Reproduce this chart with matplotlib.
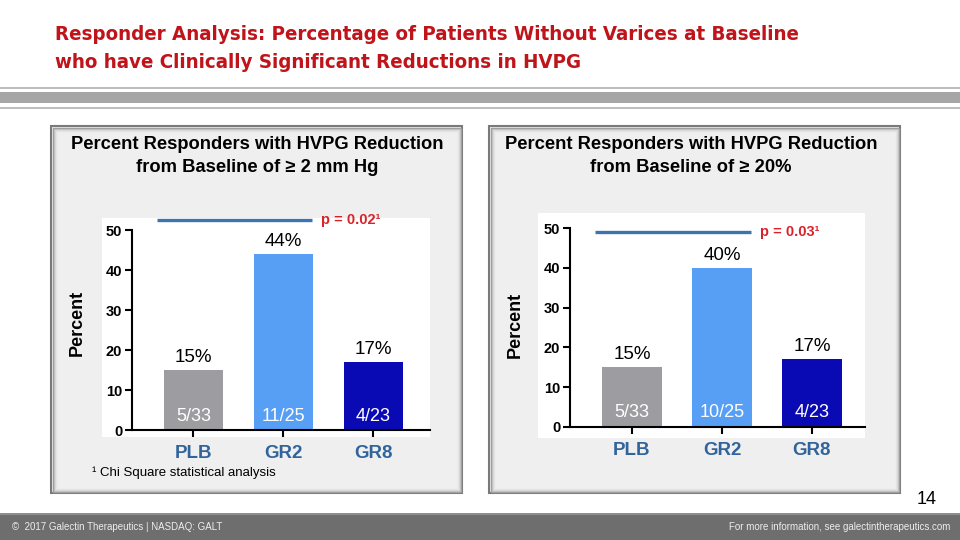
import matplotlib.pyplot as plt
from matplotlib.patches import Rectangle

plt.rcParams['font.family'] = ['Liberation Sans', 'DejaVu Sans']

# Data grafik
kelompok = ['PLB', 'GR2', 'GR8']
persen_2mm = [15, 44, 17]
persen_20 = [15, 40, 17]
pecahan_2mm = ['5/33', '11/25', '4/23']
pecahan_20 = ['5/33', '10/25', '4/23']
warna_bar = ['#9D9DA1', '#579FF5', '#0A0AB4']
teks_p_2mm = 'p = 0.02\u00b9'
teks_p_20 = 'p = 0.03\u00b9'
y_garis_2mm = 52.5
y_garis_20 = 49

judul1 = 'Responder Analysis: Percentage of Patients Without Varices at Baseline'
judul2 = 'who have Clinically Significant Reductions in HVPG'
judul_kiri = 'Percent Responders with HVPG Reduction\nfrom Baseline of \u2265 2 mm Hg'
judul_kanan = 'Percent Responders with HVPG Reduction\nfrom Baseline of \u2265 20%'

W, H = 960, 540
fig = plt.figure(figsize=(9.6, 5.4), dpi=100)


def fx(x):
    return x / W


def fy(y):
    return 1 - y / H


def kotak(x0, y0, x1, y1, **kw):
    fig.patches.append(Rectangle((fx(x0), fy(y1)), (x1 - x0) / W, (y1 - y0) / H,
                                 transform=fig.transFigure, zorder=-5, **kw))


# Judul slide (font sempit)
fig.text(fx(55), fy(35), judul1, color='#C0141B', fontsize=14.7, fontweight='bold',
         family='DejaVu Sans', fontstretch='condensed', va='center')
fig.text(fx(55), fy(63), judul2, color='#C0141B', fontsize=14.7, fontweight='bold',
         family='DejaVu Sans', fontstretch='condensed', va='center')

# Garis pemisah
kotak(0, 86.5, 960, 88.5, color='#BDBDBD', lw=0)
kotak(0, 92, 960, 103, color='#A6A6A6', lw=0)
kotak(0, 107, 960, 109, color='#BDBDBD', lw=0)

# Panel abu-abu
for x0, x1 in [(51, 462), (489, 900)]:
    kotak(x0, 126, x1, 493, facecolor='#EFEFEF', edgecolor='#7A7A7A', lw=1.5)
    for i, c in enumerate(['#9A9A9A', '#BDBDBD', '#D6D6D6', '#E4E4E4']):
        kotak(x0 + i + 1.5, 126 + i + 1.5, x1 - i - 1.5, 493 - i - 1.5,
              facecolor='none', edgecolor=c, lw=1)

# Area putih grafik
kotak(102, 218, 430, 437, color='white', lw=0)
kotak(538, 213, 865, 438, color='white', lw=0)

fig.text(fx(257), fy(156), judul_kiri, ha='center', va='center', fontsize=13.2,
         fontweight='bold', linespacing=1.4)
fig.text(fx(691), fy(156), judul_kanan, ha='center', va='center', fontsize=13.2,
         fontweight='bold', linespacing=1.4)


def gambar(ax, nilai, pecahan, teks_p, y_garis, xlim, y_pecahan):
    x = range(len(kelompok))
    ax.bar(x, nilai, width=0.66, color=warna_bar)
    for i, v in enumerate(nilai):
        ax.text(i, v + 1, f'{v}%', ha='center', va='bottom', fontsize=13.5)
        ax.text(i, y_pecahan, pecahan[i], ha='center', va='center', fontsize=13,
                color='white')
    ax.plot([-0.41, 1.32], [y_garis, y_garis], color='#3C74AE', lw=2.4,
            clip_on=False, solid_capstyle='butt')
    ax.text(1.42, y_garis, teks_p, color='#D8232A', fontsize=10.5,
            fontweight='bold', va='center')
    ax.set_xlim(*xlim)
    ax.set_ylim(0, 50)
    ax.set_yticks(range(0, 51, 10))
    ax.set_xticks(list(x))
    ax.set_xticklabels(kelompok, fontsize=13.5, fontweight='bold', color='#31649B')
    for t in ax.get_yticklabels():
        t.set_fontweight('bold')
        t.set_fontsize(10.5)
    ax.tick_params(axis='y', length=5, width=1.5, pad=2)
    ax.tick_params(axis='x', length=5, width=1.5, pad=6)
    ax.spines['top'].set_visible(False)
    ax.spines['right'].set_visible(False)
    ax.spines['left'].set_linewidth(1.5)
    ax.spines['bottom'].set_linewidth(1.5)
    ax.patch.set_alpha(0)


ax1 = fig.add_axes([fx(132), fy(430), 298 / W, 200 / H])
gambar(ax1, persen_2mm, pecahan_2mm, teks_p_2mm, y_garis_2mm, (-0.683, 2.63), 3.3)
ax2 = fig.add_axes([fx(570), fy(427), 295 / W, 199 / H])
gambar(ax2, persen_20, pecahan_20, teks_p_20, y_garis_20, (-0.689, 2.59), 3.6)

fig.text(fx(77), fy(323), 'Percent', rotation=90, ha='center', va='center',
         fontsize=13, fontweight='bold')
fig.text(fx(515), fy(325), 'Percent', rotation=90, ha='center', va='center',
         fontsize=13, fontweight='bold')

fig.text(fx(92), fy(473), '\u00b9 Chi Square statistical analysis', va='center',
         fontsize=9.5)
fig.text(fx(927), fy(500), '14', ha='center', va='center', fontsize=13)

# Footer
kotak(0, 513, 960, 540, color='#6E6E6E', lw=0)
kotak(0, 513, 960, 515, color='#8E8E8E', lw=0)
fig.text(fx(12), fy(527), '\u00a9  2017 Galectin Therapeutics | NASDAQ: GALT',
         color='#EDEDED', fontsize=7, va='center')
fig.text(fx(950), fy(527), 'For more information, see galectintherapeutics.com',
         color='#EDEDED', fontsize=7, va='center', ha='right')

plt.savefig('out.png', dpi=100)
